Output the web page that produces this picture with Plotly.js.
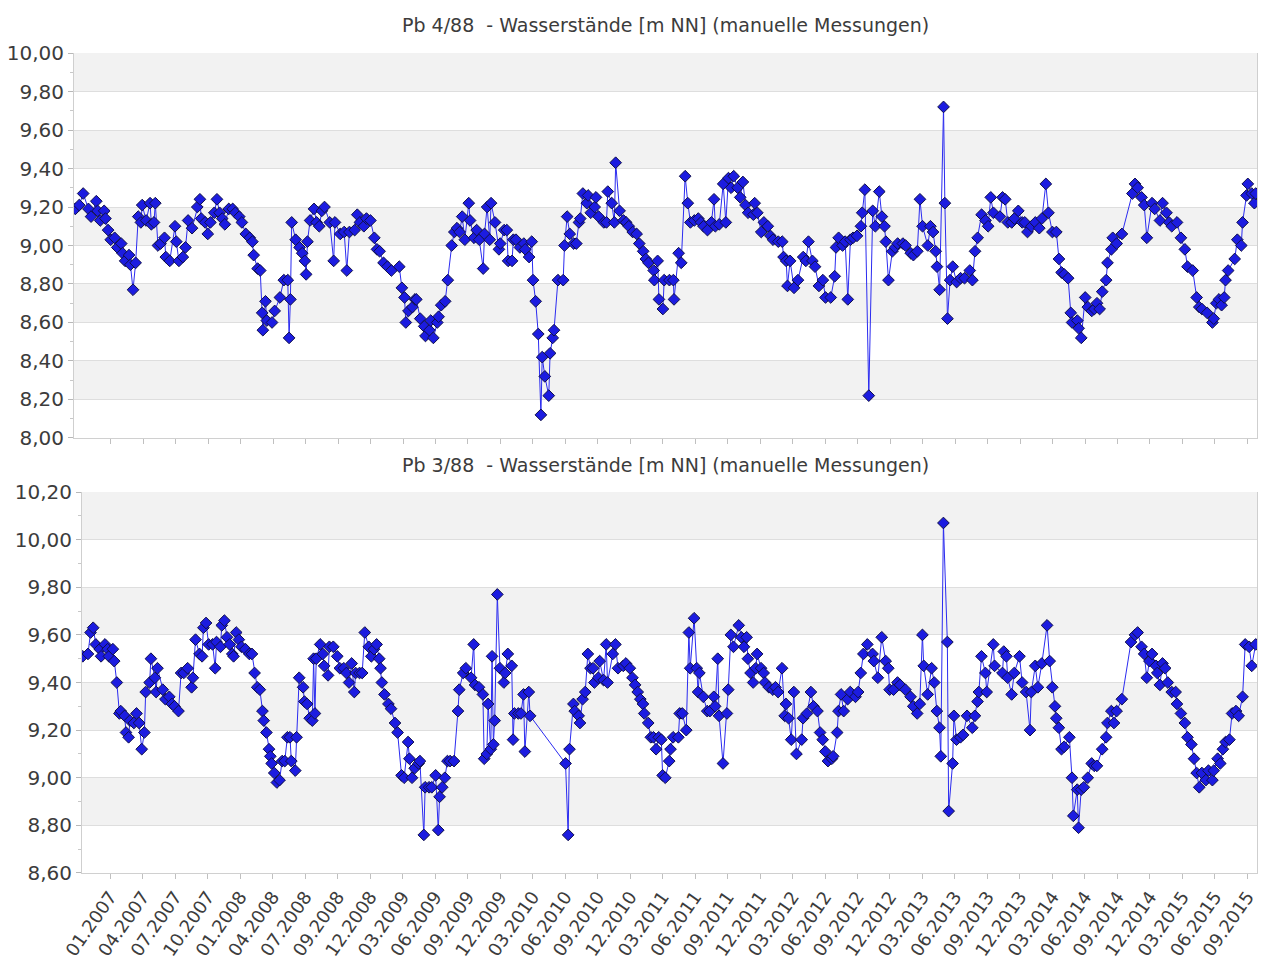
<!DOCTYPE html>
<html>
<head>
<meta charset="utf-8">
<script src="https://cdn.plot.ly/plotly-3.0.1.min.js"></script>
<style>html,body{margin:0;padding:0;background:#fff;}#chart{width:1261px;height:964px;}</style>
</head>
<body>
<div id="chart"></div>
<script>
// ---------- DATA ----------
const titleTop = "Pb 4/88  - Wasserstände [m NN] (manuelle Messungen)";
const titleBottom = "Pb 3/88  - Wasserstände [m NN] (manuelle Messungen)";

const tickLabels = ["01.2007","04.2007","07.2007","10.2007","01.2008","04.2008","07.2008","09.2008","12.2008",
  "03.2009","06.2009","09.2009","12.2009","03.2010","06.2010","09.2010","12.2010","03.2011","06.2011",
  "09.2011","12.2011","03.2012","06.2012","09.2012","12.2012","03.2013","06.2013","09.2013","12.2013",
  "03.2014","06.2014","09.2014","12.2014","03.2015","06.2015","09.2015"];

// Pb 4/88 : time (decimal year) and water level [m NN]
const dates488 = [2006.73,2006.76,2006.79,2006.83,2006.85,2006.89,2006.90,2006.92,2006.95,2006.96,2006.98,2007.00,2007.03,2007.05,2007.08,2007.09,2007.11,2007.14,2007.15,2007.17,2007.19,2007.21,2007.23,2007.24,2007.27,2007.30,2007.31,2007.33,2007.34,2007.36,2007.38,2007.41,2007.42,2007.45,2007.49,2007.50,2007.52,2007.55,2007.57,2007.59,2007.62,2007.66,2007.68,2007.69,2007.72,2007.74,2007.76,2007.79,2007.81,2007.83,2007.85,2007.87,2007.90,2007.93,2007.95,2007.98,2008.00,2008.03,2008.06,2008.08,2008.09,2008.12,2008.14,2008.155,2008.16,2008.18,2008.19,2008.23,2008.25,2008.29,2008.32,2008.35,2008.36,2008.37,2008.38,2008.41,2008.44,2008.46,2008.48,2008.49,2008.50,2008.52,2008.55,2008.57,2008.59,2008.61,2008.63,2008.67,2008.70,2008.71,2008.75,2008.78,2008.80,2008.82,2008.86,2008.88,2008.90,2008.93,2008.95,2008.98,2009.01,2009.03,2009.05,2009.08,2009.11,2009.14,2009.20,2009.22,2009.24,2009.25,2009.27,2009.30,2009.32,2009.33,2009.36,2009.39,2009.40,2009.43,2009.44,2009.46,2009.49,2009.50,2009.52,2009.55,2009.57,2009.60,2009.62,2009.64,2009.66,2009.68,2009.70,2009.73,2009.74,2009.77,2009.79,2009.81,2009.84,2009.85,2009.87,2009.89,2009.90,2009.93,2009.96,2009.97,2010.00,2010.02,2010.03,2010.06,2010.07,2010.09,2010.12,2010.15,2010.16,2010.19,2010.21,2010.22,2010.24,2010.26,2010.28,2010.29,2010.31,2010.34,2010.35,2010.37,2010.38,2010.41,2010.45,2010.46,2010.48,2010.50,2010.53,2010.55,2010.57,2010.58,2010.60,2010.63,2010.64,2010.66,2010.69,2010.70,2010.72,2010.76,2010.78,2010.79,2010.82,2010.84,2010.85,2010.88,2010.91,2010.93,2010.95,2010.98,2011.01,2011.03,2011.06,2011.08,2011.10,2011.14,2011.145,2011.17,2011.18,2011.21,2011.22,2011.26,2011.29,2011.295,2011.33,2011.35,2011.38,2011.40,2011.42,2011.45,2011.48,2011.50,2011.52,2011.55,2011.58,2011.60,2011.61,2011.64,2011.67,2011.69,2011.71,2011.73,2011.75,2011.78,2011.80,2011.82,2011.84,2011.86,2011.90,2011.91,2011.93,2011.96,2011.98,2012.01,2012.03,2012.05,2012.09,2012.12,2012.13,2012.15,2012.16,2012.18,2012.21,2012.24,2012.28,2012.30,2012.32,2012.35,2012.37,2012.40,2012.43,2012.45,2012.49,2012.52,2012.53,2012.55,2012.58,2012.60,2012.62,2012.64,2012.66,2012.69,2012.72,2012.73,2012.75,2012.78,2012.81,2012.83,2012.86,2012.88,2012.90,2012.91,2012.93,2012.96,2012.98,2013.00,2013.04,2013.06,2013.10,2013.12,2013.15,2013.17,2013.19,2013.23,2013.25,2013.27,2013.29,2013.30,2013.32,2013.35,2013.36,2013.38,2013.40,2013.42,2013.45,2013.48,2013.51,2013.55,2013.57,2013.59,2013.61,2013.64,2013.67,2013.69,2013.71,2013.73,2013.78,2013.80,2013.82,2013.84,2013.87,2013.89,2013.92,2013.95,2013.97,2013.99,2014.02,2014.05,2014.08,2014.10,2014.13,2014.15,2014.18,2014.21,2014.23,2014.25,2014.27,2014.30,2014.32,2014.33,2014.37,2014.38,2014.40,2014.43,2014.45,2014.48,2014.50,2014.52,2014.54,2014.56,2014.59,2014.60,2014.63,2014.64,2014.67,2014.71,2014.79,2014.81,2014.83,2014.86,2014.88,2014.90,2014.94,2014.96,2015.00,2015.02,2015.05,2015.07,2015.09,2015.13,2015.16,2015.19,2015.21,2015.25,2015.28,2015.30,2015.32,2015.36,2015.40,2015.41,2015.43,2015.45,2015.47,2015.49,2015.50,2015.52,2015.57,2015.59,2015.62,2015.63,2015.66,2015.67,2015.70,2015.72,2015.73];
const levels488 = [9.19,9.21,9.27,9.19,9.15,9.23,9.18,9.13,9.18,9.14,9.08,9.03,9.04,8.99,9.01,8.96,8.92,8.95,8.90,8.77,8.91,9.15,9.12,9.21,9.13,9.22,9.11,9.12,9.22,9.00,9.01,9.04,8.94,8.92,9.10,9.02,8.92,8.94,8.99,9.13,9.09,9.20,9.24,9.14,9.12,9.06,9.12,9.17,9.24,9.17,9.14,9.11,9.19,9.19,9.17,9.15,9.12,9.06,9.04,9.02,8.95,8.88,8.87,8.65,8.56,8.71,8.61,8.60,8.66,8.73,8.82,8.82,8.52,8.72,9.12,9.03,8.99,8.96,8.92,8.85,9.02,9.13,9.19,9.12,9.10,9.18,9.20,9.12,8.92,9.12,9.06,9.07,8.87,9.07,9.08,9.16,9.12,9.10,9.14,9.13,9.04,8.98,8.97,8.91,8.89,8.87,8.89,8.78,8.73,8.60,8.66,8.68,8.72,8.72,8.62,8.58,8.53,8.56,8.61,8.52,8.60,8.63,8.69,8.71,8.82,9.00,9.07,9.09,9.07,9.15,9.03,9.22,9.13,9.04,9.08,9.03,8.88,9.06,9.20,9.03,9.22,9.12,8.98,9.01,9.08,9.08,8.92,8.92,9.03,9.03,8.99,9.01,8.98,8.94,9.02,8.82,8.71,8.54,8.12,8.42,8.32,8.22,8.44,8.52,8.56,8.82,8.82,9.00,9.15,9.06,9.01,9.01,9.12,9.14,9.27,9.22,9.26,9.17,9.20,9.25,9.15,9.12,9.12,9.28,9.22,9.12,9.43,9.18,9.13,9.12,9.10,9.07,9.06,9.01,8.97,8.93,8.91,8.87,8.82,8.92,8.72,8.67,8.82,8.82,8.82,8.72,8.96,8.91,9.36,9.22,9.12,9.13,9.14,9.12,9.10,9.08,9.12,9.24,9.10,9.11,9.32,9.12,9.35,9.30,9.36,9.30,9.25,9.33,9.21,9.17,9.16,9.22,9.17,9.07,9.12,9.10,9.05,9.03,9.02,9.02,8.94,8.92,8.79,8.92,8.78,8.82,8.94,8.92,9.02,8.92,8.89,8.79,8.82,8.73,8.73,8.84,8.99,9.04,9.00,9.02,8.72,9.03,9.04,9.05,9.10,9.17,9.29,8.22,9.18,9.10,9.28,9.15,9.10,9.02,8.82,8.97,8.99,9.01,9.01,9.00,8.96,8.95,8.97,9.24,9.10,9.00,9.10,9.07,8.97,8.89,8.77,9.72,9.22,8.62,8.82,8.89,8.81,8.83,8.83,8.87,8.82,8.97,9.04,9.16,9.13,9.10,9.25,9.17,9.15,9.25,9.24,9.12,9.12,9.14,9.18,9.12,9.12,9.07,9.10,9.12,9.09,9.14,9.32,9.17,9.07,9.07,8.93,8.86,8.85,8.83,8.65,8.60,8.61,8.57,8.52,8.73,8.68,8.66,8.67,8.70,8.67,8.76,8.82,8.91,8.98,9.04,9.01,9.06,9.27,9.32,9.30,9.25,9.21,9.04,9.22,9.19,9.13,9.22,9.17,9.12,9.10,9.12,9.04,8.98,8.89,8.87,8.73,8.68,8.67,8.65,8.60,8.62,8.70,8.72,8.69,8.73,8.82,8.87,8.93,9.03,9.00,9.12,9.26,9.32,9.27,9.22,9.27];

// Pb 3/88 : time (decimal year) and water level [m NN]
const dates388 = [2006.79,2006.83,2006.85,2006.87,2006.89,2006.92,2006.93,2006.96,2006.98,2006.99,2007.02,2007.03,2007.05,2007.07,2007.08,2007.11,2007.12,2007.14,2007.15,2007.18,2007.20,2007.22,2007.24,2007.26,2007.27,2007.30,2007.31,2007.34,2007.35,2007.36,2007.40,2007.42,2007.45,2007.47,2007.49,2007.52,2007.54,2007.56,2007.59,2007.62,2007.63,2007.65,2007.68,2007.70,2007.71,2007.73,2007.75,2007.78,2007.80,2007.81,2007.84,2007.85,2007.87,2007.89,2007.91,2007.93,2007.94,2007.96,2007.98,2008.00,2008.03,2008.06,2008.08,2008.10,2008.12,2008.14,2008.16,2008.17,2008.19,2008.21,2008.22,2008.23,2008.25,2008.27,2008.29,2008.31,2008.33,2008.35,2008.37,2008.38,2008.41,2008.42,2008.44,2008.47,2008.48,2008.50,2008.52,2008.54,2008.55,2008.56,2008.57,2008.60,2008.62,2008.63,2008.66,2008.67,2008.70,2008.73,2008.75,2008.78,2008.80,2008.82,2008.84,2008.86,2008.87,2008.90,2008.92,2008.94,2008.97,2008.99,2009.01,2009.03,2009.05,2009.06,2009.07,2009.09,2009.12,2009.14,2009.17,2009.19,2009.22,2009.24,2009.27,2009.28,2009.30,2009.32,2009.35,2009.36,2009.39,2009.40,2009.43,2009.45,2009.48,2009.50,2009.51,2009.53,2009.55,2009.57,2009.59,2009.62,2009.65,2009.66,2009.69,2009.71,2009.75,2009.77,2009.78,2009.81,2009.84,2009.85,2009.87,2009.88,2009.90,2009.91,2009.92,2009.93,2009.95,2009.97,2010.00,2010.01,2010.03,2010.06,2010.07,2010.08,2010.11,2010.13,2010.15,2010.16,2010.19,2010.20,2010.47,2010.49,2010.50,2010.53,2010.54,2010.57,2010.58,2010.60,2010.62,2010.64,2010.66,2010.68,2010.69,2010.72,2010.73,2010.76,2010.78,2010.79,2010.83,2010.85,2010.87,2010.91,2010.93,2010.96,2010.98,2011.00,2011.02,2011.04,2011.06,2011.07,2011.10,2011.12,2011.14,2011.16,2011.18,2011.20,2011.21,2011.23,2011.26,2011.27,2011.29,2011.33,2011.34,2011.36,2011.39,2011.41,2011.42,2011.45,2011.47,2011.48,2011.49,2011.52,2011.55,2011.57,2011.60,2011.61,2011.63,2011.64,2011.67,2011.70,2011.71,2011.73,2011.75,2011.79,2011.81,2011.83,2011.85,2011.86,2011.88,2011.90,2011.92,2011.93,2011.96,2011.98,2011.99,2012.02,2012.05,2012.07,2012.09,2012.12,2012.14,2012.15,2012.17,2012.19,2012.21,2012.23,2012.27,2012.28,2012.31,2012.34,2012.36,2012.39,2012.41,2012.43,2012.45,2012.47,2012.50,2012.51,2012.54,2012.55,2012.57,2012.59,2012.62,2012.64,2012.68,2012.70,2012.72,2012.74,2012.77,2012.81,2012.82,2012.85,2012.88,2012.91,2012.93,2012.94,2012.97,2013.00,2013.02,2013.06,2013.10,2013.12,2013.15,2013.17,2013.19,2013.20,2013.23,2013.26,2013.28,2013.30,2013.32,2013.33,2013.35,2013.38,2013.39,2013.42,2013.43,2013.45,2013.48,2013.50,2013.53,2013.57,2013.59,2013.61,2013.62,2013.64,2013.67,2013.68,2013.73,2013.74,2013.80,2013.81,2013.83,2013.84,2013.87,2013.89,2013.93,2013.95,2013.98,2014.01,2014.02,2014.05,2014.07,2014.10,2014.14,2014.16,2014.18,2014.20,2014.21,2014.23,2014.25,2014.27,2014.31,2014.33,2014.34,2014.37,2014.38,2014.40,2014.42,2014.45,2014.48,2014.50,2014.52,2014.56,2014.59,2014.60,2014.63,2014.65,2014.67,2014.71,2014.78,2014.81,2014.83,2014.86,2014.88,2014.90,2014.92,2014.94,2014.97,2014.98,2015.00,2015.02,2015.04,2015.06,2015.09,2015.12,2015.13,2015.16,2015.19,2015.21,2015.24,2015.26,2015.28,2015.30,2015.32,2015.35,2015.37,2015.40,2015.41,2015.44,2015.46,2015.48,2015.50,2015.53,2015.55,2015.58,2015.60,2015.63,2015.65,2015.68,2015.70,2015.73];
const levels388 = [9.51,9.52,9.61,9.63,9.56,9.54,9.51,9.56,9.54,9.51,9.54,9.49,9.40,9.27,9.28,9.26,9.19,9.17,9.24,9.23,9.27,9.23,9.12,9.19,9.36,9.40,9.50,9.42,9.36,9.46,9.37,9.33,9.34,9.31,9.30,9.28,9.44,9.44,9.46,9.38,9.42,9.58,9.52,9.51,9.63,9.65,9.56,9.56,9.46,9.57,9.55,9.64,9.66,9.59,9.56,9.52,9.51,9.61,9.58,9.55,9.54,9.52,9.52,9.44,9.38,9.37,9.28,9.24,9.19,9.12,9.09,9.06,9.02,8.98,8.99,9.07,9.07,9.17,9.17,9.07,9.03,9.17,9.42,9.38,9.32,9.31,9.25,9.24,9.50,9.27,9.50,9.56,9.52,9.47,9.43,9.55,9.55,9.51,9.46,9.46,9.44,9.40,9.48,9.36,9.44,9.44,9.44,9.61,9.55,9.51,9.54,9.56,9.50,9.46,9.40,9.35,9.31,9.29,9.23,9.19,9.01,9.00,9.15,9.08,9.00,9.04,9.06,9.07,8.76,8.96,8.96,8.96,9.01,8.78,8.92,8.96,9.00,9.07,9.07,9.07,9.28,9.37,9.44,9.46,9.42,9.56,9.39,9.38,9.35,9.08,9.10,9.31,9.12,9.51,9.14,9.24,9.77,9.46,9.40,9.44,9.52,9.47,9.16,9.27,9.27,9.27,9.35,9.11,9.36,9.26,9.06,8.76,9.12,9.31,9.28,9.26,9.23,9.33,9.36,9.52,9.46,9.46,9.40,9.42,9.49,9.41,9.56,9.40,9.52,9.56,9.46,9.47,9.48,9.46,9.42,9.39,9.36,9.33,9.31,9.27,9.23,9.17,9.17,9.12,9.17,9.16,9.01,9.00,9.07,9.12,9.17,9.17,9.27,9.27,9.20,9.61,9.46,9.67,9.46,9.36,9.44,9.34,9.28,9.28,9.34,9.30,9.50,9.26,9.06,9.27,9.37,9.60,9.55,9.64,9.59,9.55,9.59,9.50,9.44,9.40,9.46,9.52,9.46,9.44,9.40,9.38,9.37,9.38,9.36,9.46,9.26,9.31,9.25,9.16,9.36,9.10,9.16,9.25,9.27,9.36,9.30,9.28,9.19,9.16,9.11,9.07,9.08,9.09,9.19,9.28,9.35,9.28,9.33,9.36,9.34,9.36,9.44,9.52,9.56,9.52,9.49,9.42,9.59,9.49,9.46,9.37,9.37,9.40,9.39,9.37,9.34,9.30,9.27,9.31,9.60,9.47,9.35,9.46,9.40,9.28,9.21,9.09,10.07,9.57,8.86,9.06,9.26,9.16,9.17,9.18,9.26,9.21,9.26,9.32,9.36,9.51,9.44,9.36,9.56,9.47,9.44,9.53,9.51,9.42,9.35,9.44,9.51,9.40,9.36,9.20,9.36,9.47,9.38,9.48,9.64,9.49,9.38,9.30,9.25,9.21,9.12,9.13,9.17,9.00,8.84,8.95,8.79,8.95,8.96,9.00,9.06,9.05,9.05,9.12,9.17,9.23,9.28,9.23,9.28,9.33,9.57,9.60,9.61,9.55,9.52,9.42,9.49,9.52,9.47,9.44,9.39,9.48,9.46,9.40,9.36,9.36,9.31,9.27,9.23,9.17,9.14,9.08,9.02,8.96,9.02,8.99,9.03,8.99,9.03,9.08,9.06,9.12,9.15,9.16,9.27,9.28,9.26,9.34,9.56,9.55,9.47,9.56];

// ---------- CHART ----------
const FONT = "DejaVu Sans, Verdana, sans-serif";
const TXT = "#3c3c3c";
const firstTick = 2007, lastTick = 2015 + 8/12;
const tickVals = tickLabels.map((_, i) => firstTick + i * (lastTick - firstTick) / (tickLabels.length - 1));

function series(x, y, xa, ya) {
  return {
    x: x, y: y, xaxis: xa, yaxis: ya, type: "scatter", mode: "lines+markers",
    line: {color: "#2b2bf0", width: 1},
    marker: {symbol: "diamond", size: 9, color: "#1c1ce0", line: {color: "#10104a", width: 1}},
    hoverinfo: "x+y", showlegend: false
  };
}

function bands(yref, lo, hi) {
  const out = [];
  for (let top = hi; top - 0.2 >= lo - 1e-9; top -= 0.4) {
    out.push({type: "rect", xref: (yref === "y" ? "x" : "x2") + " domain", yref: yref,
      x0: 0, x1: 1, y0: top - 0.2, y1: top, fillcolor: "#f2f2f2", line: {width: 0}, layer: "below"});
  }
  return out;
}

const yCommon = {
  dtick: 0.2, tickformat: ".2f", ticks: "outside", ticklen: 5, tickcolor: "#b8b8b8",
  showline: true, linecolor: "#cfcfcf", linewidth: 1, mirror: true,
  showgrid: true, gridcolor: "#dedede", gridwidth: 1, zeroline: false,
  tickfont: {family: FONT, size: 20, color: TXT},
  minor: {dtick: 0.1, ticks: "outside", ticklen: 3, tickcolor: "#c8c8c8", showgrid: false}
};
const xCommon = {
  type: "linear", tickmode: "array", tickvals: tickVals, ticktext: tickLabels,
  ticks: "outside", ticklen: 5, tickcolor: "#c0c0c0", showgrid: false, zeroline: false,
  showline: true, linecolor: "#d0d0d0", linewidth: 1
};

const layout = {
  width: 1261, height: 964,
  margin: {l: 74, r: 4, t: 53, b: 91},
  paper_bgcolor: "#ffffff", plot_bgcolor: "#ffffff",
  separators: ",.",
  font: {family: FONT, color: TXT},
  xaxis: Object.assign({}, xCommon, {domain: [0, 1], anchor: "y", range: [2006.72, 2015.74], showticklabels: false}),
  yaxis: Object.assign({}, yCommon, {domain: [0.5305, 1], anchor: "x", range: [8.0, 10.0]}),
  xaxis2: Object.assign({}, xCommon, {domain: [0.0068, 1], anchor: "y2", range: [2006.785, 2015.74],
    tickangle: -55, tickfont: {family: FONT, size: 18, color: TXT}}),
  yaxis2: Object.assign({}, yCommon, {domain: [0, 0.4646], anchor: "x2", range: [8.6, 10.2]}),
  shapes: bands("y", 8.0, 10.0).concat(bands("y2", 8.6, 10.2)),
  annotations: [
    {text: titleTop, xref: "paper", yref: "paper", x: 0.5, y: 1.034, xanchor: "center", yanchor: "middle",
     showarrow: false, font: {family: FONT, size: 19, color: TXT}},
    {text: titleBottom, xref: "paper", yref: "paper", x: 0.5, y: 0.4976, xanchor: "center", yanchor: "middle",
     showarrow: false, font: {family: FONT, size: 19, color: TXT}}
  ]
};

Plotly.newPlot("chart", [series(dates488, levels488, "x", "y"), series(dates388, levels388, "x2", "y2")], layout,
  {staticPlot: true, displayModeBar: false});
</script>
</body>
</html>
